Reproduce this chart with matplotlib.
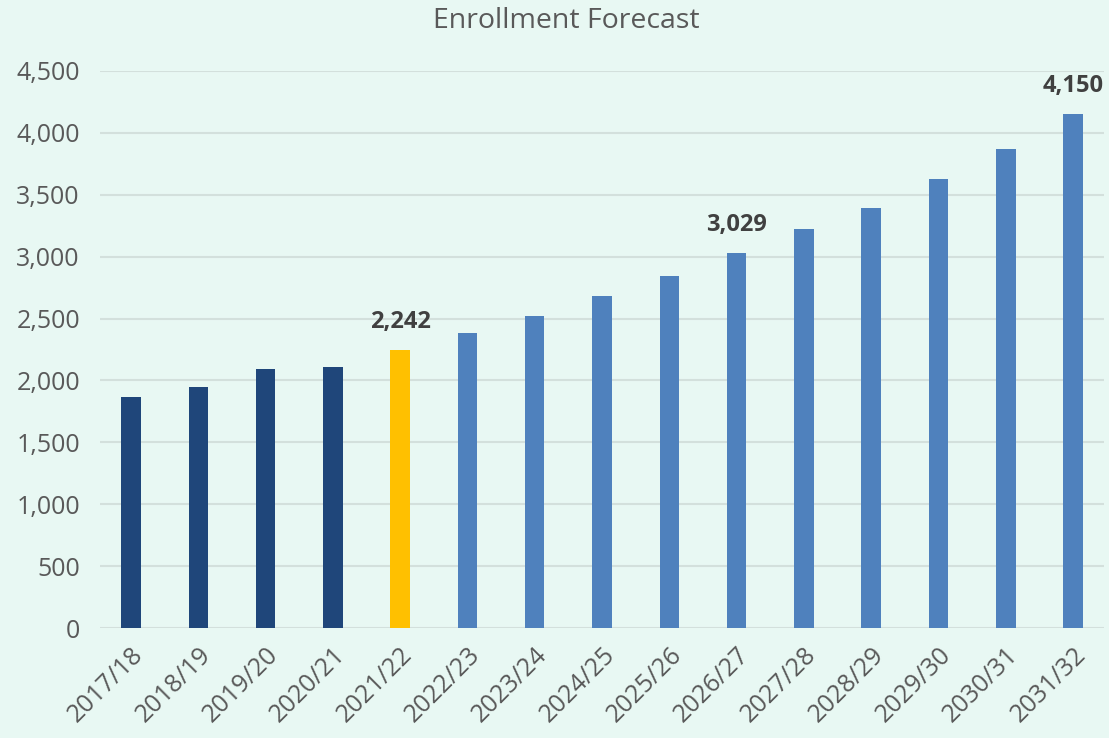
import numpy as np
import matplotlib
matplotlib.use('Agg')
import matplotlib.pyplot as plt
import matplotlib.ticker as mtick

plt.rcParams['font.family'] = ['Open Sans', 'DejaVu Sans']

# 学年和招生人数
years = ['2017/18', '2018/19', '2019/20', '2020/21', '2021/22', '2022/23', '2023/24',
         '2024/25', '2025/26', '2026/27', '2027/28', '2028/29', '2029/30', '2030/31', '2031/32']
enrollment = [1868, 1948, 2089, 2110, 2242, 2381, 2521,
              2680, 2841, 3029, 3220, 3395, 3623, 3871, 4150]
# 0=历史, 1=当前, 2=预测
kind = [0, 0, 0, 0, 1, 2, 2, 2, 2, 2, 2, 2, 2, 2, 2]
labeled = ['2021/22', '2026/27', '2031/32']

bg = '#e8f8f3'
kind_colors = {0: '#1f467a', 1: '#ffc000', 2: '#4f81bd'}
text_gray = '#595959'

fig = plt.figure(figsize=(11.09, 7.38), dpi=100, facecolor=bg)
ax = fig.add_axes([0.0902, 0.1487, 0.9053, 0.7555], facecolor=bg)

x = np.arange(len(years))
colors = [kind_colors[k] for k in kind]
ax.bar(x, enrollment, width=0.29, color=colors, zorder=3)

for i, (yr, val) in enumerate(zip(years, enrollment)):
    if yr in labeled:
        ax.text(i, val + 130, f'{val:,}', ha='center', va='bottom',
                fontsize=17, fontweight='bold', color='#404040', zorder=4)

ax.set_xlim(-0.46, len(years) - 0.54)
ax.set_ylim(0, 4500)
ax.set_yticks(range(0, 4501, 500))
ax.yaxis.set_major_formatter(mtick.StrMethodFormatter('{x:,.0f}'))
ax.set_xticks(x)
ax.set_xticklabels(years, rotation=45, ha='right', rotation_mode='anchor')

ax.grid(axis='y', color='#d3e0dc', linewidth=1.5, zorder=0)
for s in ax.spines.values():
    s.set_visible(False)
ax.tick_params(axis='both', length=0, labelsize=18, labelcolor=text_gray)
ax.tick_params(axis='y', pad=14.5)
ax.tick_params(axis='x', pad=10)

fig.text(0.511, 0.972, 'Enrollment Forecast', ha='center', va='center',
         fontsize=20.5, color=text_gray)

plt.savefig('out.png', dpi=100, facecolor=bg)
